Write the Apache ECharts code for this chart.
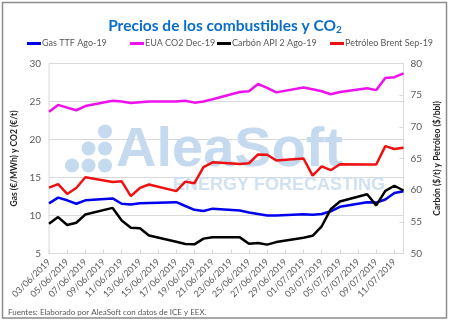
<!DOCTYPE html>
<html>
<head>
<meta charset="utf-8">
<script src="https://cdn.jsdelivr.net/npm/echarts@6/dist/echarts.min.js"></script>
<style>
html,body{margin:0;padding:0;background:#fff;}
#c{width:450px;height:326px;}
</style>
</head>
<body>
<div id="c"></div>
<script>
// Calendar days shown on the axis (weekends have no quotes)
var categories = [
 '03/06/2019','04/06/2019','05/06/2019','06/06/2019','07/06/2019','08/06/2019','09/06/2019',
 '10/06/2019','11/06/2019','12/06/2019','13/06/2019','14/06/2019','15/06/2019','16/06/2019',
 '17/06/2019','18/06/2019','19/06/2019','20/06/2019','21/06/2019','22/06/2019','23/06/2019',
 '24/06/2019','25/06/2019','26/06/2019','27/06/2019','28/06/2019','29/06/2019','30/06/2019',
 '01/07/2019','02/07/2019','03/07/2019','04/07/2019','05/07/2019','06/07/2019','07/07/2019',
 '08/07/2019','09/07/2019','10/07/2019','11/07/2019','12/07/2019'
];
var gasTTF = [11.6,12.35,12.0,11.55,12.0,null,null, 12.25,11.55,11.45,11.6,11.65,null,null,
  11.75,11.25,10.75,10.6,10.9,null,null, 10.65,10.4,10.2,10.0,10.0,null,null,
  10.15,10.1,10.2,10.55,11.15,null,null, 11.75,11.7,12.1,12.95,13.2];
var euaCO2 = [23.65,24.55,24.2,23.85,24.4,null,null, 25.1,25.0,24.8,24.9,25.0,null,null,
  25.0,25.1,24.85,25.0,25.3,null,null, 26.25,26.35,27.3,26.8,26.2,null,null,
  26.85,26.6,26.35,25.95,26.25,null,null, 26.75,26.5,28.1,28.2,28.7];
var carbonAPI2 = [54.7,55.75,54.5,54.85,56.15,null,null, 57.2,55.2,54.05,54.0,52.85,null,null,
  51.85,51.5,51.45,52.35,52.55,null,null, 52.55,51.55,51.65,51.4,51.8,null,null,
  52.5,52.8,54.3,57.0,58.2,null,null, 59.35,57.6,59.9,60.7,59.95];
var brent = [60.4,60.95,59.4,60.35,62.05,null,null, 61.3,61.4,59.05,60.35,60.9,null,null,
  59.85,61.35,61.1,63.65,64.4,null,null, 64.15,64.25,65.65,65.6,64.7,null,null,
  65.0,62.3,63.75,63.15,64.1,null,null, 64.05,64.05,66.95,66.5,66.7];
var seriesNames = ['Gas TTF Ago-19','EUA CO2 Dec-19','Carbón API 2 Ago-19','Petróleo Brent Sep-19'];
var seriesColors = ['#0000ee','#ee10ee','#000000','#ee1111'];

var FONT = 'Lato';
var GRAY = '#595959';
var WM = '#c5d9ef';

var chart = echarts.init(document.getElementById('c'), null, {renderer:'canvas'});

function legendFor(i, left) {
  return {
    left: left, top: 39, padding: 0,
    icon: 'rect', itemWidth: 14, itemHeight: 3,
    data: [seriesNames[i]],
    textStyle: {fontFamily: FONT, fontSize: 9, color: GRAY, padding: [0,0,0,-4]}
  };
}

var option = {
  animation: false,
  backgroundColor: '#fff',
  title: {
    text: 'Precios de los combustibles y CO{sub|2}',
    left: 'center', top: 12,
    textStyle: {
      fontFamily: FONT, fontSize: 15.5, fontWeight: 'bold', color: '#0a6ec8',
      rich: {
        sub: {fontFamily: FONT, fontSize: 10, fontWeight: 'bold', color: '#0a6ec8', padding: [8,0,0,0]}
      }
    }
  },
  legend: [legendFor(0, 27), legendFor(1, 130), legendFor(2, 217), legendFor(3, 330)],
  grid: {left: 49, right: 43, top: 63.5, bottom: 72.5, show: true, borderColor: '#d9d9d9', borderWidth: 1},
  xAxis: {
    type: 'category', data: categories, boundaryGap: false,
    axisLine: {show: true, lineStyle: {color: '#d9d9d9'}},
    axisTick: {show: true, inside: true, interval: 1, length: 4, lineStyle: {color: '#d9d9d9'}},
    axisLabel: {interval: 1, rotate: 45, fontFamily: FONT, fontSize: 9, color: GRAY, margin: 7},
    splitLine: {show: false}
  },
  yAxis: [
    {
      type: 'value', min: 5, max: 30, interval: 5, position: 'left',
      name: 'Gas (€/MWh) y CO2 (€/t)', nameLocation: 'middle', nameGap: 22,
      nameTextStyle: {fontFamily: FONT, fontSize: 8.5, fontWeight: 'bold', color: '#262626'},
      axisLine: {show: false}, axisTick: {show: false},
      axisLabel: {fontFamily: FONT, fontSize: 10, color: GRAY, margin: 8},
      splitLine: {show: true, lineStyle: {color: '#d9d9d9', width: 1}}
    },
    {
      type: 'value', min: 50, max: 80, interval: 5, position: 'right',
      name: 'Carbón ($/t) y Petróleo ($/bbl)', nameLocation: 'middle', nameGap: 23, nameRotate: 90,
      nameTextStyle: {fontFamily: FONT, fontSize: 8.5, fontWeight: 'bold', color: '#262626'},
      axisLine: {show: false},
      axisTick: {show: true, inside: true, length: 4, lineStyle: {color: '#d9d9d9'}},
      axisLabel: {fontFamily: FONT, fontSize: 10, color: GRAY, margin: 7},
      splitLine: {show: false}
    }
  ],
  graphic: [
    {type: 'rect', shape: {x: 2.5, y: 2.5, width: 444, height: 315.5}, style: {fill: 'none', stroke: '#8c8c8c', lineWidth: 1.5}, z: 100, silent: true},
    {type: 'circle', shape: {cx: 105, cy: 131.5, r: 7}, style: {fill: WM}, z: 1, silent: true},
    {type: 'circle', shape: {cx: 105, cy: 148.5, r: 7}, style: {fill: WM}, z: 1, silent: true},
    {type: 'circle', shape: {cx: 105, cy: 165.5, r: 7}, style: {fill: WM}, z: 1, silent: true},
    {type: 'circle', shape: {cx: 88.5, cy: 148.5, r: 7}, style: {fill: WM}, z: 1, silent: true},
    {type: 'circle', shape: {cx: 88.5, cy: 165.5, r: 7}, style: {fill: WM}, z: 1, silent: true},
    {type: 'circle', shape: {cx: 72, cy: 165.5, r: 7}, style: {fill: WM}, z: 1, silent: true},
    {type: 'text', x: 116, y: 151, z: 1, silent: true,
     style: {text: 'AleaSoft', font: 'bold 56px "Liberation Sans"', fill: WM, textVerticalAlign: 'middle'}},
    {type: 'text', x: 173, y: 185, z: 1, silent: true,
     style: {text: 'ENERGY FORECASTING', font: 'bold 18px "Liberation Sans"', fill: '#d2e1f1', textVerticalAlign: 'middle'}},
    {type: 'text', x: 8, y: 312, z: 100, silent: true,
     style: {text: 'Fuentes: Elaborado por AleaSoft con datos de ICE y EEX.', font: '8px Lato', fill: GRAY, textVerticalAlign: 'middle'}}
  ],
  series: [
    {name: seriesNames[0], type: 'line', yAxisIndex: 0, data: gasTTF, connectNulls: true, showSymbol: false, symbol: 'none',
     lineStyle: {color: seriesColors[0], width: 2.5}, itemStyle: {color: seriesColors[0]}, z: 3},
    {name: seriesNames[1], type: 'line', yAxisIndex: 0, data: euaCO2, connectNulls: true, showSymbol: false, symbol: 'none',
     lineStyle: {color: seriesColors[1], width: 2.5}, itemStyle: {color: seriesColors[1]}, z: 3},
    {name: seriesNames[2], type: 'line', yAxisIndex: 1, data: carbonAPI2, connectNulls: true, showSymbol: false, symbol: 'none',
     lineStyle: {color: seriesColors[2], width: 2.5}, itemStyle: {color: seriesColors[2]}, z: 3},
    {name: seriesNames[3], type: 'line', yAxisIndex: 1, data: brent, connectNulls: true, showSymbol: false, symbol: 'none',
     lineStyle: {color: seriesColors[3], width: 2.5}, itemStyle: {color: seriesColors[3]}, z: 3}
  ]
};
chart.setOption(option);
</script>
</body>
</html>
